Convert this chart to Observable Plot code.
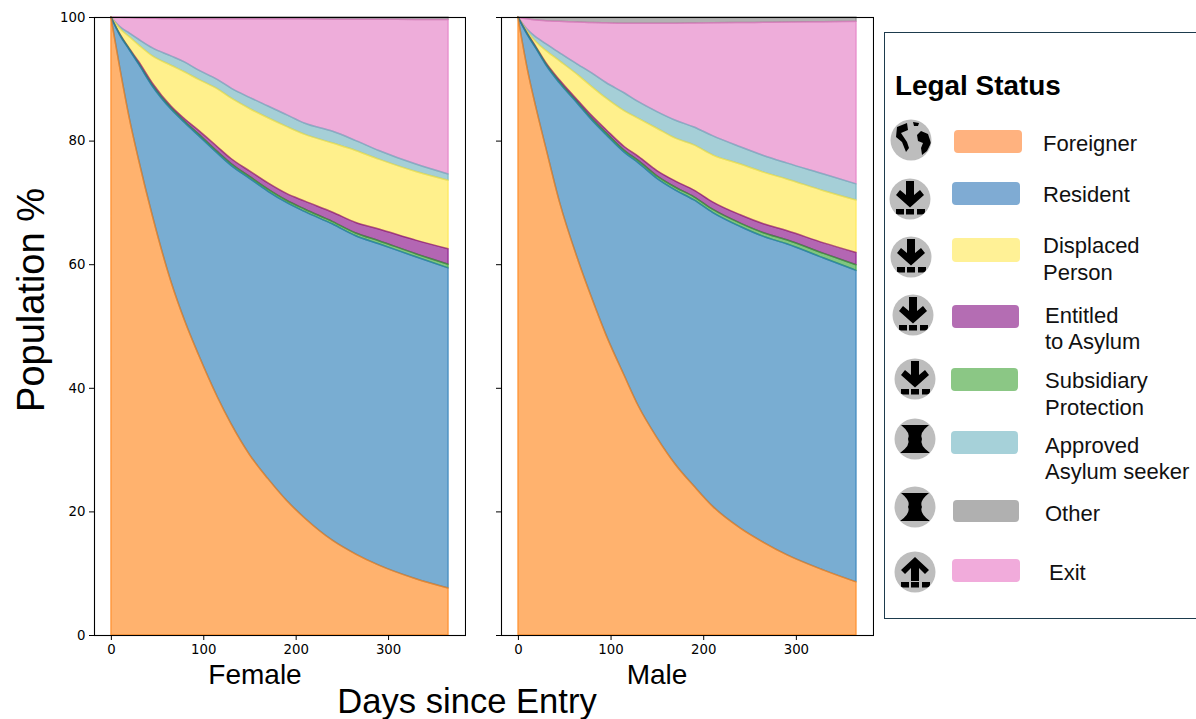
<!DOCTYPE html>
<html>
<head>
<meta charset="utf-8">
<script src="https://cdn.jsdelivr.net/npm/d3@7"></script>
<script src="https://cdn.jsdelivr.net/npm/@observablehq/plot@0.6"></script>
<style>
  html,body{margin:0;padding:0;background:#fff;}
  #page{position:relative;width:1196px;height:719px;overflow:hidden;font-family:"Liberation Sans",Arial,sans-serif;color:#000;}
  #page>svg,.panel{position:absolute;top:0;}
  .t{position:absolute;white-space:nowrap;line-height:1;transform:translate(-50%,-50%);}
  .l{position:absolute;white-space:nowrap;line-height:1;font-size:22px;transform:translateY(-50%);color:#111;}
  .sw{position:absolute;border-radius:4px;}
  #box{position:absolute;left:884px;top:32px;width:330px;height:587px;border:1px solid #1d3b4d;box-sizing:border-box;}
</style>
</head>
<body>
<div id="page"></div>
<script>
const days = [0,10,20,30,45,65,80,95,115,130,150,170,190,210,240,265,290,330,365];
const dayTicks = [0,100,200,300];
const pctTicks = [0,20,40,60,80,100];

// Female: band size per status, in %
const fForeigner = [100,91.5,83.6,76.9,67.8,57.2,50.8,45.3,38.6,34.2,29.2,25.3,21.8,18.9,15.3,13.1,11.3,9.1,7.6];
const fResident  = [0,5.5,11.1,15.5,21,27.9,32.1,35.5,39.4,41.8,44.7,46.5,48.2,49.6,51.2,51.5,52,52.1,51.8];
const fSubsidiary= [0,.1,.1,.1,.15,.2,.2,.25,.25,.3,.3,.35,.35,.4,.4,.45,.5,.5,.6];
const fEntitled  = [0,.1,.1,.3,.35,.3,.4,.6,.8,.8,.9,1,1.1,1.3,1.5,1.7,1.9,2.2,2.5];
const fDisplaced = [0,.9,1.9,2.7,4.4,6.6,7.6,8.25,9.35,9.8,10.1,10.55,10.85,10.8,11.2,11.65,11.3,11.1,11.1];
const fApproved  = [0,.3,.6,.9,1.3,1.5,1.6,1.5,1.5,1.6,1.8,1.9,1.9,1.8,1.9,1.6,1.4,1.2,1];
const fExit      = [0,1.55,2.5,3.45,4.8,6.05,7,8.3,9.8,11.2,12.7,14.1,15.5,16.9,18.15,19.65,21.25,23.4,25];
const fOther     = [0,.05,.1,.15,.2,.25,.3,.3,.3,.3,.3,.3,.3,.3,.35,.35,.35,.4,.4];

// Male: band size per status, in %
const mForeigner = [100,91.7,85,78.9,70,60.6,54.4,48.6,41.9,37.05,31.95,27.6,24.1,20.85,17.3,15,13,10.5,8.6];
const mResident  = [0,5.5,9.8,13.4,19.3,25.3,28.9,32.4,36.2,39.35,41.95,44.4,46.3,47.55,48.8,49.5,50.3,50.5,50.4];
const mSubsidiary= [0,.1,.1,.15,.2,.2,.25,.3,.3,.35,.4,.45,.5,.5,.55,.6,.65,.75,.9];
const mEntitled  = [0,.1,.15,.2,.3,.35,.45,.5,.6,.7,.85,1,1.1,1.2,1.35,1.45,1.5,1.7,2];
const mDisplaced = [0,.3,.85,1.95,3.1,4.15,4.7,5.1,5.8,6.15,6.85,6.95,7.3,7.6,8.2,8.35,8.35,8.45,8.5];
const mApproved  = [0,.3,.8,1.1,1.3,1.7,2.2,2.5,2.9,2.7,2.7,2.9,2.9,3.1,2.8,2.7,2.6,2.7,2.6];
const mExit      = [0,1.7,2.8,3.7,5.1,6.9,8.2,9.65,11.3,12.7,14.3,15.7,16.82,18.25,20.1,21.55,22.8,24.65,26.3];
const mOther     = [0,.3,.5,.6,.7,.8,.9,.95,1,1,1,1,.98,.95,.9,.85,.8,.75,.7];

const stackOrder = ["Foreigner","Resident","Subsidiary Protection","Entitled to Asylum","Displaced Person","Approved Asylum seeker","Exit","Other"];
const statusColors = ["#ff7f0e","#1f77b4","#2ca02c","#800080","#ffe640","#69afbc","#e377c2","#7f7f7f"];
const femaleSeries = [fForeigner,fResident,fSubsidiary,fEntitled,fDisplaced,fApproved,fExit,fOther];
const maleSeries   = [mForeigner,mResident,mSubsidiary,mEntitled,mDisplaced,mApproved,mExit,mOther];

// rows run top band first so lower bands are painted over the edges of upper ones
function rows(series){
  return [...stackOrder.keys()].reverse().flatMap(i=>days.map((day,j)=>({day,status:stackOrder[i],value:series[i][j]})));
}
const page = document.getElementById("page");

function panel(series,{left,marginLeft,width,labels}){
  const p = Plot.plot({
    width, height:719, marginTop:17, marginBottom:84, marginLeft, marginRight:1,
    style:{fontFamily:'"DejaVu Sans",sans-serif',fontSize:"13.3px",background:"transparent",color:"#000"},
    x:{domain:[-18.25,383.25]},
    y:{domain:[0,100]},
    color:{domain:stackOrder,range:statusColors},
    marks:[
      Plot.areaY(rows(series),{x:"day",y:"value",z:"status",fill:"status",stroke:"status",order:stackOrder,curve:"monotone-x",fillOpacity:.6,strokeOpacity:.6,strokeWidth:1.5}),
      Plot.frame({stroke:"#000",strokeWidth:1.1}),
      Plot.axisX({ticks:dayTicks,tickSize:5,tickPadding:4,label:null,color:"#000"}),
      labels ? Plot.axisY({ticks:pctTicks,tickSize:5,tickPadding:4,label:null,color:"#000"})
             : Plot.axisY({ticks:pctTicks,tickSize:5,label:null,stroke:"#000",fill:"none"})
    ]
  });
  p.classList.add("panel");
  p.style.left = left+"px";
  page.appendChild(p);
}
panel(femaleSeries,{left:0,marginLeft:94,width:466,labels:true});
panel(maleSeries,{left:466,marginLeft:35,width:408,labels:false});

function text(s,x,y,size,extra){
  const d=document.createElement("div");d.className="t";d.textContent=s;
  d.style.cssText=`left:${x}px;top:${y}px;font-size:${size}px;`+(extra||"");
  page.appendChild(d);
}
text("Female",255,675,28);
text("Male",657,675,28);
text("Days since Entry",467,701,34.6);
text("Population %",31,300,38,"transform:translate(-50%,-50%) rotate(-90deg);");

// legend
const box=document.createElement("div");box.id="box";page.appendChild(box);
const title=document.createElement("div");title.className="l";title.textContent="Legal Status";
title.style.cssText="left:895px;top:86px;font-size:27.9px;font-weight:bold;color:#000;";page.appendChild(title);

const legendLabels=[["Foreigner"],["Resident"],["Displaced","Person"],["Entitled","to Asylum"],["Subsidiary","Protection"],["Approved","Asylum seeker"],["Other"],["Exit"]];
const legendColors=["#ffb27f","#7fabd3","#fff196","#b46db3","#8bc785","#a6d1d9","#b0b0b0","#f1abdb"];
const legendIcons=["globe","down","down","down","down","hour","hour","up"];
// layout of each legend row: icon centre, swatch box, label x, label line centres
const legendLayout=[
 {c:[911,140],s:[954,130,68,23],lx:1043,ly:[143.5]},
 {c:[910,199],s:[952,182,68,23],lx:1043,ly:[194.5]},
 {c:[911,257],s:[952,238,68,24],lx:1043,ly:[245.5,272.5]},
 {c:[913,315],s:[952,305,67,23],lx:1045,ly:[315.5,341.5]},
 {c:[915,379],s:[951,368,67,23],lx:1045,ly:[380.5,407.5]},
 {c:[915,439],s:[951,431,67,23],lx:1045,ly:[445.5,471.5]},
 {c:[915,507],s:[953,500,66,22],lx:1045,ly:[513.5]},
 {c:[915,572],s:[952,559,68,23],lx:1049,ly:[572.5]}
];
legendLayout.forEach((L,i)=>{
  const sw=document.createElement("div");sw.className="sw";
  sw.style.cssText=`left:${L.s[0]}px;top:${L.s[1]}px;width:${L.s[2]}px;height:${L.s[3]}px;background:${legendColors[i]};`;
  page.appendChild(sw);
  legendLabels[i].forEach((line,k)=>{
    const d=document.createElement("div");d.className="l";d.textContent=line;
    d.style.left=L.lx+"px";d.style.top=L.ly[k]+"px";page.appendChild(d);
  });
});
const dashes='<rect x="-14" y="10" width="8" height="5.5"/><rect x="-4" y="10" width="8" height="5.5"/><rect x="7" y="10" width="8" height="5.5"/>';
const glyphs={
 globe:'<path d="M-14,-13 L-4,-17 L-3,-10 L-10,-7 L-4,2 L-2,8 L-5,12 L-9,2 L-15,-3 Z"/><path d="M10,-9 L17,-6 L20,3 L16,11 L11,15 L10,8 L12,3 L7,1 L6,-5 Z"/><path d="M2,-18 L8,-17 L7,-14 L3,-14 Z"/>',
 down:'<path d="M-4,-18 L4,-18 L4,-4 L10,-9 L14,-4 L0,8.5 L-14,-4 L-10,-9 L-4,-4 Z"/>'+dashes,
 up:'<path d="M0,-15 L14,-2 L10,2 L4,-4 L4,9 L-4,9 L-4,-4 L-10,2 L-14,-2 Z"/>'+dashes,
 hour:'<path d="M-14,-14 L14,-14 Q4,-6 7,0 Q4,6 15,14 L-15,14 Q-4,6 -7,0 Q-4,-6 -14,-14 Z"/>'
};
const svgNS="http://www.w3.org/2000/svg";
const icons=document.createElementNS(svgNS,"svg");
icons.setAttribute("width",1196);icons.setAttribute("height",719);
icons.style.cssText="left:0;top:0;pointer-events:none;";
icons.innerHTML=legendLayout.map((L,i)=>`<g transform="translate(${L.c[0]},${L.c[1]})"><clipPath id="c${i}"><circle r="20"/></clipPath><circle r="20.5" fill="#bdbdbd"/><g clip-path="url(#c${i})" fill="#000">${glyphs[legendIcons[i]]}</g></g>`).join("");
page.appendChild(icons);
</script>
</body>
</html>
